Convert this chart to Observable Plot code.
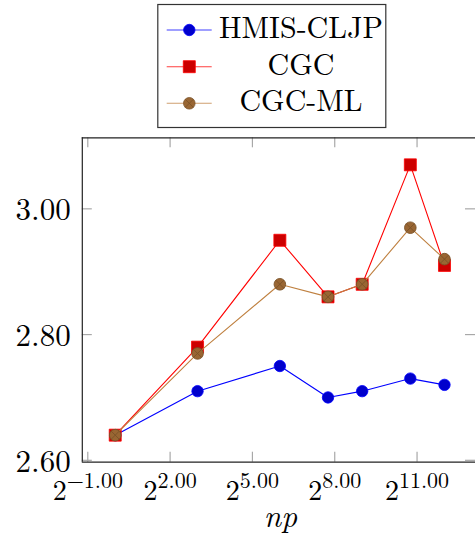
<!DOCTYPE html>
<html><head><meta charset="utf-8">
<script src="https://cdn.jsdelivr.net/npm/d3@7"></script>
<script src="https://cdn.jsdelivr.net/npm/@observablehq/plot@0.6"></script>
<style>
body{margin:0;background:#fff;}
#wrap{position:relative;width:475px;height:538px;overflow:hidden;font-family:"Latin Modern Roman","Liberation Serif",serif;}
#legend{position:relative;width:475px;height:130px;}
#chart{height:408px;}
svg text{font-family:"Latin Modern Roman","Liberation Serif",serif !important;}
</style></head><body><div id="wrap"><div id="legend"></div><div id="chart"></div></div>
<script>
// ---- data ----
const np = [1, 8, 64, 216, 512, 1728, 4096];
const seriesNames = ["HMIS-CLJP", "CGC", "CGC-ML"];
const hmisCljp = [2.64, 2.71, 2.75, 2.70, 2.71, 2.73, 2.72];
const cgc = [2.64, 2.78, 2.95, 2.86, 2.88, 3.07, 2.91];
const cgcMl = [2.64, 2.77, 2.88, 2.86, 2.88, 2.97, 2.92];
const xTickExponents = [-1, 2, 5, 8, 11];
const xTickLabels = ["\u22121.00", "2.00", "5.00", "8.00", "11.00"];
const yTicks = [2.6, 2.8, 3.0];
const yTickLabels = ["2.60", "2.80", "3.00"];
const xLabel = "np";

// ---- styles ----
const FONT = "Latin Modern Roman, Liberation Serif, serif";
const seriesValues = [hmisCljp, cgc, cgcMl];
const lineColors = ["#0000ff", "#ff0000", "#bf8040"];
const fillColors = ["#0000cc", "#cc0000", "#996633"];
const markStrokes = ["#0000ff", "#ff0000", "#7a5228"];
const otimes = {
  draw(ctx, size) {
    const r = Math.sqrt(size / Math.PI);
    ctx.moveTo(r, 0);
    ctx.arc(0, 0, r, 0, 2 * Math.PI);
    const a = r * Math.SQRT1_2;
    ctx.moveTo(-a, -a); ctx.lineTo(a, a);
    ctx.moveTo(-a, a); ctx.lineTo(a, -a);
  }
};
const symbols = ["circle", "square", otimes];
const radii = [5.7, 6.77, 5.8];

const rows = [];
seriesNames.forEach((s, k) => np.forEach((n, i) => rows.push({series: s, k, np: n, value: seriesValues[k][i]})));

const W = 475, H = 408;
const mt = 7.3, mb = 76.3, ml = 81.8, mr = 0;
const fw = W - ml - mr, fh = H - mt - mb;
const xDomain = [2 ** -1.2, 2 ** 13.13];
const yDomain = [2.597, 3.113];
const xTickVals = xTickExponents.map(e => 2 ** e);
const tickStyle = {stroke: "#a8a8a8", strokeWidth: 1.2};

const seriesMarks = [];
seriesNames.forEach((s, k) => {
  const d = rows.filter(r => r.k === k);
  seriesMarks.push(Plot.line(d, {x: "np", y: "value", stroke: lineColors[k], strokeWidth: 1.1}));
  seriesMarks.push(Plot.dot(d, {x: "np", y: "value", r: radii[k], symbol: symbols[k], fill: fillColors[k], stroke: markStrokes[k], strokeWidth: k === 2 ? 0.9 : 0.8}));
});

const chart = Plot.plot({
  width: W, height: H,
  marginTop: mt, marginBottom: mb, marginLeft: ml, marginRight: mr,
  style: {fontFamily: FONT, background: "white", color: "black"},
  x: {type: "log", base: 2, domain: xDomain, axis: null},
  y: {domain: yDomain, axis: null},
  marks: [
    Plot.tickX(xTickVals, {x: d => d, insetTop: fh - 10, ...tickStyle}),
    Plot.tickX(xTickVals, {x: d => d, insetBottom: fh - 10, ...tickStyle}),
    Plot.tickY(yTicks, {y: d => d, insetRight: fw - 10, ...tickStyle}),
    Plot.tickY(yTicks, {y: d => d, insetLeft: fw - 10, ...tickStyle}),
    Plot.ruleX([xDomain[0]], {stroke: "#222", strokeWidth: 1.2}),
    Plot.ruleY(yDomain, {stroke: "#222", strokeWidth: 1.2}),
    Plot.text(yTicks, {y: d => d, frameAnchor: "left", dx: -11.6, dy: 1.5, textAnchor: "end", text: (d, i) => yTickLabels[i], fontSize: 31, fill: "black"}),
    Plot.text(xTickVals, {x: d => d, frameAnchor: "bottom", dy: 37.3, lineAnchor: "bottom", textAnchor: "middle", text: (d, i) => xTickLabels[i], fontSize: 28, fill: "black"}),
    Plot.text([xLabel], {frameAnchor: "bottom", dy: 65, dx: 1.5, lineAnchor: "bottom", text: d => d, fontStyle: "italic", fontSize: 31, fill: "black"}),
    ...seriesMarks
  ]
});
document.getElementById("chart").appendChild(chart);

// superscript formatting of x tick labels: 2^{exp}
const xLabelSet = new Set(xTickLabels);
d3.select(chart).selectAll("text").each(function() {
  const s = this.textContent;
  if (!xLabelSet.has(s) || this.querySelector("tspan")) return;
  const t = d3.select(this);
  t.text("");
  t.append("tspan").attr("font-size", 28).text("2");
  t.append("tspan").attr("font-size", 22).attr("dy", -11.5).text(s);
});

// ---- legend ----
const leg = d3.select("#legend").append("svg").attr("width", 475).attr("height", 130)
  .style("position", "absolute").style("left", 0).style("top", 0);
leg.append("rect").attr("x", 157.8).attr("y", 4.5).attr("width", 228).attr("height", 123)
  .attr("fill", "white").attr("stroke", "#333").attr("stroke-width", 1.2);
const legY = [30, 66.7, 103.3];
seriesNames.forEach((s, k) => {
  const y = legY[k];
  leg.append("line").attr("x1", 166.7).attr("x2", 211.7).attr("y1", y).attr("y2", y)
    .attr("stroke", lineColors[k]).attr("stroke-width", 1.1).attr("opacity", 0.75);
  const sym = typeof symbols[k] === "string" ? (symbols[k] === "circle" ? d3.symbolCircle : d3.symbolSquare) : symbols[k];
  leg.append("path").attr("transform", `translate(189.3,${y})`)
    .attr("d", d3.symbol(sym, Math.PI * radii[k] * radii[k])())
    .attr("fill", fillColors[k]).attr("stroke", markStrokes[k]).attr("stroke-width", 0.8);
  leg.append("text").attr("x", 301).attr("y", y + 7.8).attr("text-anchor", "middle")
    .attr("font-family", FONT).attr("font-size", 30).attr("fill", "black").text(s);
});
</script></body></html>
